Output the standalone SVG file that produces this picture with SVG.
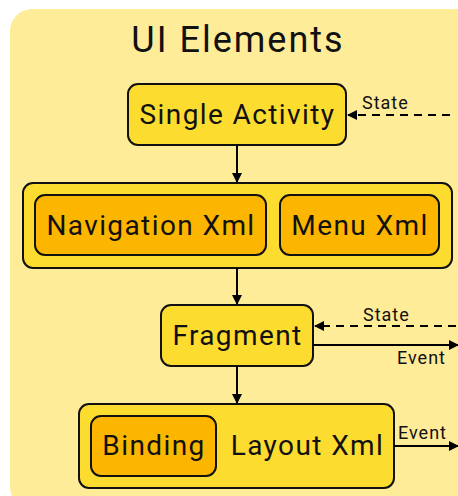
<svg xmlns="http://www.w3.org/2000/svg" width="458" height="496" viewBox="0 0 458 496">
  <defs>
    <marker id="arrow" viewBox="0 0 10 10" refX="9" refY="5" markerWidth="10" markerHeight="10" markerUnits="userSpaceOnUse" orient="auto">
      <path d="M0,0 L10,5 L0,10 Z" fill="#000"/>
    </marker>
  </defs>
  <style>
    .panel { fill: #FFEC99; }
    .box { fill: #FDDC30; stroke: #111; stroke-width: 2; }
    .inner { fill: #FDB600; stroke: #111; stroke-width: 2; }
    .label { font-family: Roboto, "Liberation Sans", sans-serif; font-size: 28px; letter-spacing: 1.4px; fill: #111; text-anchor: middle; }
    .title { font-family: Roboto, "Liberation Sans", sans-serif; font-size: 36px; letter-spacing: 2px; fill: #111; text-anchor: middle; }
    .edge { stroke: #000; stroke-width: 2; fill: none; }
    .dashed { stroke-dasharray: 8 6; }
    .elabel { font-family: Roboto, "Liberation Sans", sans-serif; font-size: 18px; letter-spacing: 1px; fill: #111; }
  </style>

  <!-- background panel -->
  <rect class="panel" x="10" y="9" width="470" height="500" rx="22"/>
  <text class="title" x="238" y="52">UI Elements</text>

  <g id="single-activity">
    <rect class="box" x="128" y="84" width="218" height="61" rx="10"/>
    <text class="label" x="237.5" y="124">Single Activity</text>
  </g>

  <g id="navigation-container">
    <rect class="box" x="23" y="183" width="429" height="85" rx="10"/>
  </g>
  <g id="navigation-xml">
    <rect class="inner" x="35" y="195" width="231" height="60" rx="10"/>
    <text class="label" x="151" y="235">Navigation Xml</text>
  </g>
  <g id="menu-xml">
    <rect class="inner" x="280" y="195" width="159" height="60" rx="10"/>
    <text class="label" x="360" y="235">Menu Xml</text>
  </g>

  <g id="fragment">
    <rect class="box" x="161" y="305" width="152" height="61" rx="10"/>
    <text class="label" x="237.5" y="345">Fragment</text>
  </g>

  <g id="layout-xml">
    <rect class="box" x="79" y="404" width="315" height="84" rx="10"/>
    <text class="label" x="307.5" y="455">Layout Xml</text>
  </g>
  <g id="binding">
    <rect class="inner" x="91" y="416" width="125" height="60" rx="10"/>
    <text class="label" x="154" y="455">Binding</text>
  </g>

  <g id="connectors">
    <line class="edge" x1="237" y1="145" x2="237" y2="182" marker-end="url(#arrow)"/>
    <line class="edge" x1="237" y1="268" x2="237" y2="304" marker-end="url(#arrow)"/>
    <line class="edge" x1="237" y1="366" x2="237" y2="403" marker-end="url(#arrow)"/>

    <line class="edge dashed" x1="450" y1="115" x2="348" y2="115" marker-end="url(#arrow)"/>
    <text class="elabel" x="362" y="109">State</text>

    <line class="edge dashed" x1="456" y1="326" x2="315" y2="326" marker-end="url(#arrow)"/>
    <text class="elabel" x="363" y="321">State</text>

    <line class="edge" x1="313" y1="345" x2="458" y2="345" marker-end="url(#arrow)"/>
    <text class="elabel" x="397" y="364">Event</text>

    <line class="edge" x1="394" y1="446" x2="458" y2="446" marker-end="url(#arrow)"/>
    <text class="elabel" x="398" y="439">Event</text>
  </g>
</svg>
